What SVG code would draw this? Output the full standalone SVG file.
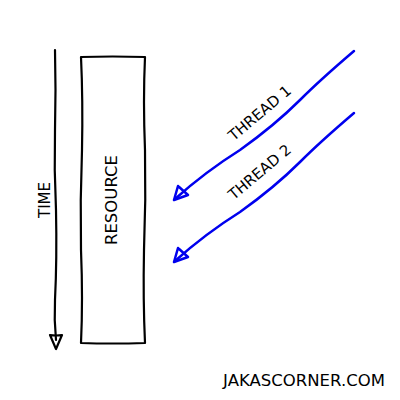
<svg xmlns="http://www.w3.org/2000/svg" width="400" height="400" viewBox="0 0 400 400">
<style>
.ink{fill:none;stroke:#000;stroke-width:2.2;stroke-linecap:round;stroke-linejoin:round}
.blue{fill:none;stroke:#0000ee;stroke-width:2.5;stroke-linecap:round;stroke-linejoin:round}
.lbl{font-family:"Comic Sans MS","DejaVu Sans",sans-serif;font-size:15px;fill:#000;text-anchor:middle}
</style>
<rect width="400" height="400" fill="#fff"/>
<g id="time">
<path class="ink" d="M55,50 Q56,90 55,130 Q54,170 56,210 Q57,260 55,300 Q54,320 56,340"/>
<path class="ink" d="M56,349 L50,335 Q56,336 62,335 Z"/>
<text class="lbl" transform="translate(50,200) rotate(-90)">TIME</text>
</g>
<g id="resource">
<path class="ink" d="M81,57 Q112,56 145,57 Q143,100 145,150 Q146,200 144,250 Q143,300 145,343 Q112,344 81,343 Q83,300 81,250 Q80,200 82,150 Q83,100 81,57 Z"/>
<text class="lbl" transform="translate(117,200) rotate(-90)" style="font-size:16.5px">RESOURCE</text>
</g>
<g id="connectors">
<g id="thread1">
<path class="blue" d="M354,51 Q320,80 300,100 Q275,125 240,150 Q205,172 175,199"/>
<path class="blue" d="M174,200 L178,186 M174,200 L188,195 L178,186"/>
<text class="lbl" transform="translate(263,117) rotate(-40)">THREAD 1</text>
</g>
<g id="thread2">
<path class="blue" d="M354,113 Q320,142 300,162 Q275,187 240,212 Q205,234 175,261"/>
<path class="blue" d="M174,262 L178,248 M174,262 L188,257 L178,248"/>
<text class="lbl" transform="translate(263,176) rotate(-40)">THREAD 2</text>
</g>
</g>
<text class="lbl" x="304" y="386" style="font-size:16.5px">JAKASCORNER.COM</text>
</svg>
